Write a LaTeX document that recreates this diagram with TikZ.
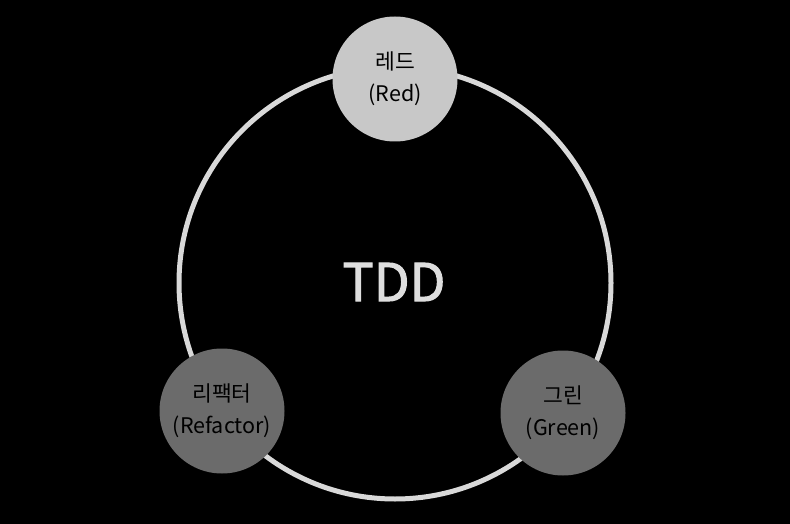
\documentclass[tikz,border=0pt]{standalone}
\usepackage{fontspec}
\setmainfont{Noto Sans CJK KR}
\newfontfamily\titlefont[BoldFont={Noto Sans CJK KR},BoldFeatures={FakeBold=2}]{Noto Sans CJK KR}
\definecolor{ringgray}{HTML}{D9D9D9}
\definecolor{topgray}{HTML}{C8C8C8}
\definecolor{lowgray}{HTML}{6B6B6B}
\definecolor{titlegray}{HTML}{DEDEDE}

\begin{document}
\begin{tikzpicture}
  [x=1pt,y=-1pt,every node/.style={circle,minimum size=125pt,inner sep=0pt,align=center,text=black,font=\fontsize{21.5}{32}\selectfont}]
  \fill [black] (0,0) rectangle (790,524);
  \useasboundingbox (0,0) rectangle (790,524);
  \node [minimum size=0pt,fill=none,text=titlegray,font=\titlefont\bfseries\fontsize{52}{60}\selectfont] (tdd) at (394,282) {TDD};
  \draw [ringgray,line width=5pt] (395,283) circle [radius=216pt];
  \node [fill=topgray] (red) at (395,79) {레드\\(Red)};
  \node [fill=lowgray] (green) at (563,413) {그린\\(Green)};
  \node [fill=lowgray] (refactor) at (222,411) {리팩터\\(Refactor)};
\end{tikzpicture}
\end{document}
